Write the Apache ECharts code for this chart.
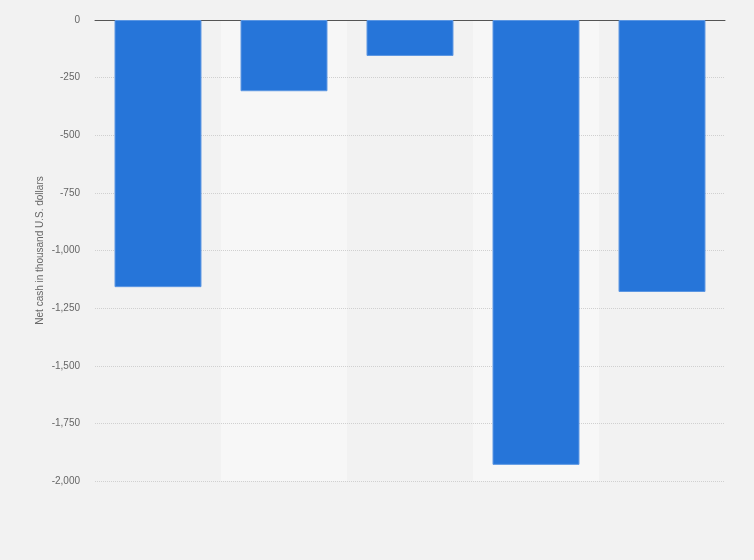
<!DOCTYPE html>
<html>
<head>
<meta charset="utf-8">
<script src="https://cdn.jsdelivr.net/npm/echarts@6/dist/echarts.min.js"></script>
<style>
  html, body { margin: 0; padding: 0; background: #f2f2f2; }
  #chart { width: 754px; height: 560px; }
</style>
</head>
<body>
<div id="chart"></div>
<script>
// x labels are not shown in the picture
const categories = ['2016', '2017', '2018', '2019', '2020'];
const netCash = [-1159, -309, -156, -1930, -1180];
const yTicks = { min: -2000, max: 0, interval: 250 };

const chart = echarts.init(document.getElementById('chart'));
chart.setOption({
    backgroundColor: '#f2f2f2',
    animation: false,
    grid: { left: 95, right: 29, top: 20, bottom: 79 },
    xAxis: {
        type: 'category',
        data: categories,
        z: 0,
        axisLine: { onZero: true, lineStyle: { color: '#555', width: 1 } },
        axisTick: { show: false },
        axisLabel: { show: false },
        splitArea: { show: true, areaStyle: { color: ['rgba(0,0,0,0)', '#f7f7f7'] } }
    },
    yAxis: {
        type: 'value',
        z: 1,
        min: yTicks.min,
        max: yTicks.max,
        interval: yTicks.interval,
        name: 'Net cash in thousand U.S. dollars',
        nameLocation: 'middle',
        nameGap: 50,
        nameMoveOverlap: false,
        nameTextStyle: { color: '#666', fontSize: 10, fontFamily: 'Liberation Sans' },
        axisLine: { show: false },
        axisTick: { show: false },
        axisLabel: {
            color: '#666', fontSize: 10, fontFamily: 'Liberation Sans', margin: 15,
            formatter: v => v.toLocaleString('en-US')
        },
        splitLine: { showMaxLine: false, lineStyle: { color: '#d0d0d0', type: [1, 1] } }
    },
    series: [{
        type: 'bar',
        data: netCash,
        barWidth: '69%',
        z: 3,
        itemStyle: { color: '#2675d9', borderColor: '#5b96e2', borderWidth: 1 }
    }]
});
</script>
</body>
</html>
